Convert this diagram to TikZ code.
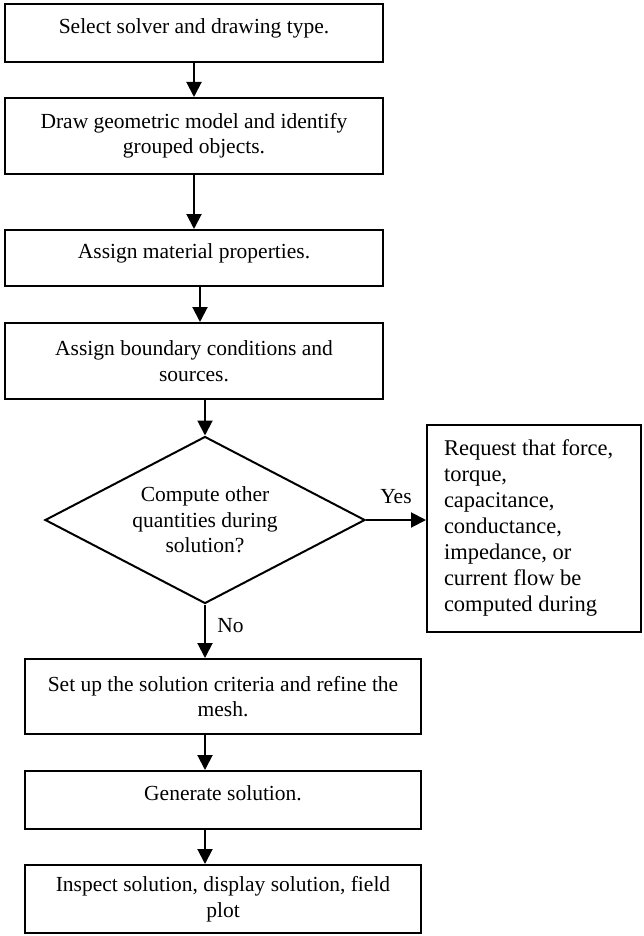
\documentclass[tikz,border=0pt]{standalone}
\usepackage{fontspec}
\setmainfont{Liberation Serif}
\usetikzlibrary{shapes.geometric,arrows.meta}
\begin{document}
\begin{tikzpicture}[x=1pt,y=-1pt,
	font=\fontsize{21.5}{25.5}\selectfont,
	box/.style={draw,line width=2pt,align=center,inner sep=0pt},
	onerow/.style={text depth=13pt},
	arr/.style={line width=2pt,-{Triangle[length=15pt,width=15pt]}}]
	\useasboundingbox (0,0) rectangle (643,936);
	% main column
	\node[box,onerow,minimum width=378pt,minimum height=58pt] (SEL) at (194,33) {Select solver and drawing type.};
	\node[box,minimum width=378pt,minimum height=76pt] (DRW) at (194,136) {Draw geometric model and identify\\grouped objects.};
	\node[box,onerow,minimum width=378pt,minimum height=56pt] (MAT) at (194,258) {Assign material properties.};
	\node[box,minimum width=378pt,minimum height=76pt] (BND) at (194,361) {Assign boundary conditions and\\sources.};
	\node[draw,diamond,aspect=1.92,line width=2pt,inner sep=0pt,minimum width=320pt,minimum height=167pt,align=center] (CMP) at (205,520) {Compute other\\quantities during\\solution?};
	\node[box,align=flush left,text width=180pt,inner xsep=17pt,minimum height=207pt,font=\fontsize{22.5}{26}\selectfont] (REQ) at (534,528.5) {Request that force,\\torque,\\capacitance,\\conductance,\\impedance, or\\current flow be\\computed during};
	\node[box,minimum width=396pt,minimum height=75pt] (SET) at (223,696.5) {Set up the solution criteria and refine the\\mesh.};
	\node[box,onerow,minimum width=396pt,minimum height=58pt] (GEN) at (223,800) {Generate solution.};
	\node[box,minimum width=396pt,minimum height=68pt] (INS) at (223,899) {Inspect solution, display solution, field\\plot};
	% connectors
	\draw[arr] (SEL)--(DRW);
	\draw[arr] (DRW)--(MAT);
	\draw[arr] ([xshift=6pt]MAT.south)--([xshift=6pt]MAT.south |- BND.north);
	\draw[arr] (CMP.north |- BND.south)--(CMP.north);
	\draw[arr] (CMP.east)--(REQ.west |- CMP.east) node[midway,above=12pt] {Yes};
	\draw[arr] (CMP.south)--(CMP.south |- SET.north) node[pos=0.4,right=8pt] {No};
	\draw[arr] (CMP.south |- SET.south)--(CMP.south |- GEN.north);
	\draw[arr] (CMP.south |- GEN.south)--(CMP.south |- INS.north);
\end{tikzpicture}
\end{document}
